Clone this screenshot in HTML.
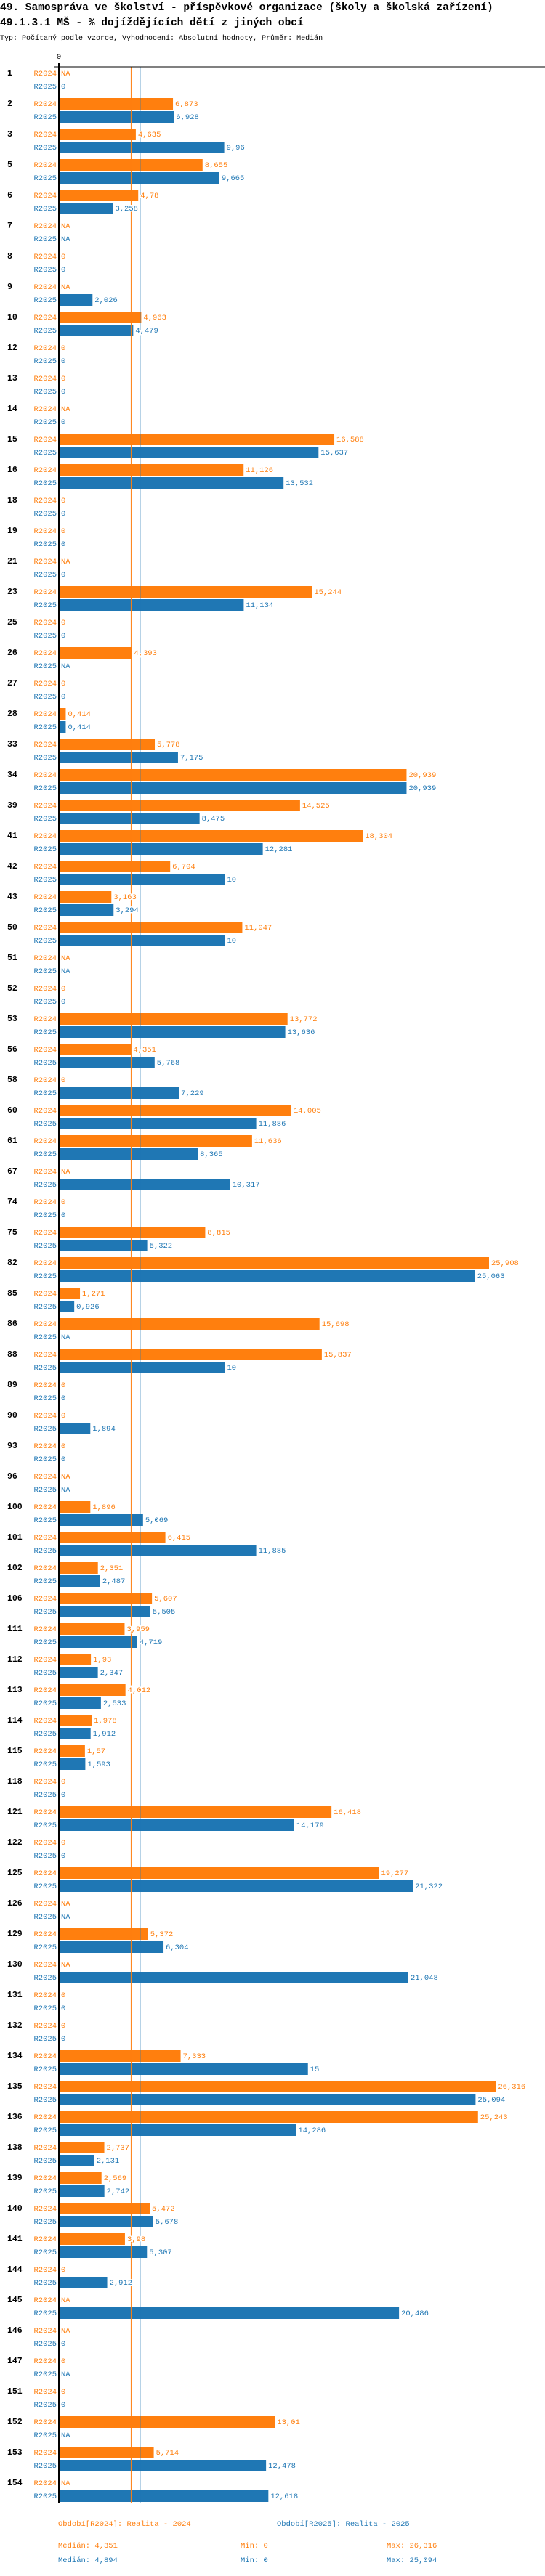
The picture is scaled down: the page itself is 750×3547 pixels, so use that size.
<!DOCTYPE html>
<html><head><meta charset="utf-8">
<style>
html,body{margin:0;padding:0;background:#fff;}
svg text{font-family:"Liberation Mono",monospace;}
</style></head>
<body>
<svg id="chart" width="750" height="3542" viewBox="0 0 750 3542" xmlns="http://www.w3.org/2000/svg">
<text x="0" y="14" font-size="14.5" font-weight="bold" fill="#000">49. Samospráva ve školství - příspěvkové organizace (školy a školská zařízení)</text>
<text x="0" y="35" font-size="14.5" font-weight="bold" fill="#000">49.1.3.1 MŠ - % dojíždějících dětí z jiných obcí</text>
<text x="0" y="55" font-size="10" fill="#000">Typ: Počítaný podle vzorce, Vyhodnocení: Absolutní hodnoty, Průměr: Medián</text>
<g id="plot"></g>
<text x="80" y="3478" font-size="10.5" fill="#ff7f0e">Období[R2024]: Realita - 2024</text>
<text x="381" y="3478" font-size="10.5" fill="#1f77b4">Období[R2025]: Realita - 2025</text>
<text x="80" y="3508" font-size="10.5" fill="#ff7f0e">Medián: 4,351</text>
<text x="331" y="3508" font-size="10.5" fill="#ff7f0e">Min: 0</text>
<text x="532" y="3508" font-size="10.5" fill="#ff7f0e">Max: 26,316</text>
<text x="80" y="3528" font-size="10.5" fill="#1f77b4">Medián: 4,894</text>
<text x="331" y="3528" font-size="10.5" fill="#1f77b4">Min: 0</text>
<text x="532" y="3528" font-size="10.5" fill="#1f77b4">Max: 25,094</text>
</svg>
<script>
const categories = ["1","2","3","5","6","7","8","9","10","12","13","14","15","16","18","19","21","23","25","26","27","28","33","34","39","41","42","43","50","51","52","53","56","58","60","61","67","74","75","82","85","86","88","89","90","93","96","100","101","102","106","111","112","113","114","115","118","121","122","125","126","129","130","131","132","134","135","136","138","139","140","141","144","145","146","147","151","152","153","154"];
const values2024 = [null,6.873,4.635,8.655,4.78,null,0,null,4.963,0,0,null,16.588,11.126,0,0,null,15.244,0,4.393,0,0.414,5.778,20.939,14.525,18.304,6.704,3.163,11.047,null,0,13.772,4.351,0,14.005,11.636,null,0,8.815,25.908,1.271,15.698,15.837,0,0,0,null,1.896,6.415,2.351,5.607,3.959,1.93,4.012,1.978,1.57,0,16.418,0,19.277,null,5.372,null,0,0,7.333,26.316,25.243,2.737,2.569,5.472,3.98,0,null,null,0,0,13.01,5.714,null];
const values2025 = [0,6.928,9.96,9.665,3.258,null,0,2.026,4.479,0,0,0,15.637,13.532,0,0,0,11.134,0,null,0,0.414,7.175,20.939,8.475,12.281,10,3.294,10,null,0,13.636,5.768,7.229,11.886,8.365,10.317,0,5.322,25.063,0.926,null,10,0,1.894,0,null,5.069,11.885,2.487,5.505,4.719,2.347,2.533,1.912,1.593,0,14.179,0,21.322,null,6.304,21.048,0,0,15,25.094,14.286,2.131,2.742,5.678,5.307,2.912,20.486,0,null,0,null,12.478,12.618];
const seriesNames = ["R2024","R2025"];
const medians = [4.351,4.894];

const NS="http://www.w3.org/2000/svg";
const plot=document.getElementById('plot');
const X0=81, K=22.85, Y0=101, GAP=42, SUB=18;
const colors=["#ff7f0e","#1f77b4"];
const xs=v=>X0+v*K;
const ys=(i,s)=>Y0+i*GAP+s*SUB;
function mk(tag,attrs){const e=document.createElementNS(NS,tag);for(const k in attrs)e.setAttribute(k,attrs[k]);plot.appendChild(e);return e;}
const bottom=ys(categories.length-1,1)+10;

categories.forEach((c,i)=>{
  const t=mk('text',{x:10,y:ys(i,0),'font-size':11.5,'font-weight':'bold',fill:'#000','dominant-baseline':'middle'});
  
  
  t.textContent=c;
  [values2024,values2025].forEach((arr,s)=>{
    const v=arr[i], y=ys(i,s);
    const l=mk('text',{x:78,y:y,'font-size':10.5,fill:colors[s],'text-anchor':'end','dominant-baseline':'middle'});
    
    
    l.textContent=seriesNames[s];
    if(v!==null && v>0){
      const r=mk('rect',{x:X0+1,y:y-8,width:xs(v)-X0-1,height:16,fill:colors[s]});
      
      
    }
  });
});
medians.forEach((m,s)=>{
  const ln=mk('line',{x1:xs(m),x2:xs(m),y1:92,y2:bottom,stroke:colors[s],'stroke-width':1});
  
  
});
categories.forEach((c,i)=>{
  [values2024,values2025].forEach((arr,s)=>{
    const v=arr[i], y=ys(i,s);
    const tx=(v===null||v===0)?X0+3:xs(v)+3;
    const vt=mk('text',{x:tx,y:y,'font-size':10.5,fill:colors[s],'dominant-baseline':'middle',stroke:'#fff','stroke-width':3,'paint-order':'stroke'});
    
    
    vt.textContent=v===null?'NA':String(v).replace('.',',');
  });
});
const ax=mk('line',{x1:X0,x2:X0,y1:87,y2:bottom,stroke:'#000','stroke-width':2});


const hx=mk('line',{x1:75,x2:750,y1:92,y2:92,stroke:'#000','stroke-width':1});


const z=mk('text',{x:X0,y:81,'font-size':10.5,fill:'#000','text-anchor':'middle'});


z.textContent='0';
</script>
</body></html>
